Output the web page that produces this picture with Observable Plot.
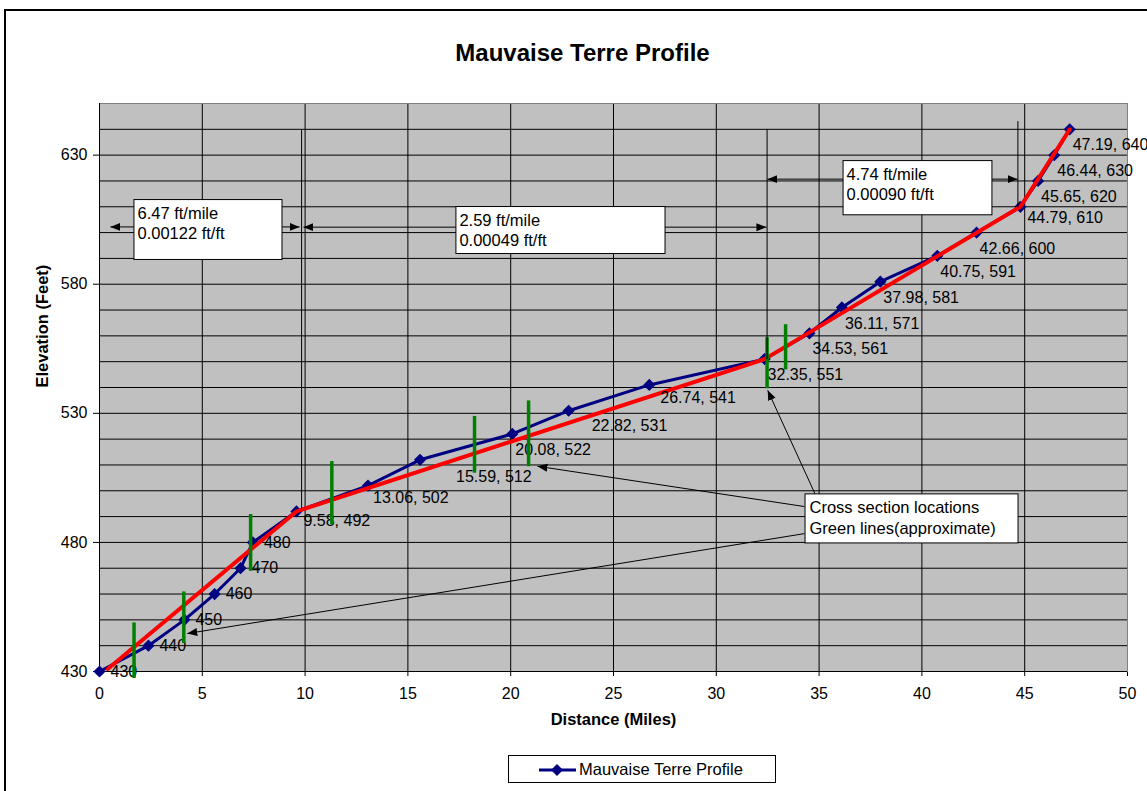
<!DOCTYPE html>
<html>
<head>
<meta charset="utf-8">
<script src="https://cdn.jsdelivr.net/npm/d3@7"></script>
<script src="https://cdn.jsdelivr.net/npm/@observablehq/plot@0.6"></script>
<style>
  body { margin: 0; background: #fff; overflow: hidden; font-family: "Liberation Sans", Arial, sans-serif; }
  #page { position: relative; width: 1147px; height: 791px; overflow: hidden; background: #fff; }
  #border { position: absolute; left: 4px; top: 9px; width: 1300px; height: 1000px; border: 2px solid #000; box-sizing: border-box; }
  #title { position: absolute; left: 0; width: 1165px; top: 39px; text-align: center; font-weight: bold; font-size: 24px; line-height: 28px; }
  #chart { position: absolute; left: 0; top: 0; }
  #legend { position: absolute; left: 508px; top: 755px; width: 268px; height: 28px; border: 1px solid #000; box-sizing: border-box; background: #fff; }
  #legend svg { position: absolute; left: 29px; top: 7px; }
  #legend span { position: absolute; left: 70px; top: 4px; font-size: 16.5px; line-height: 19px; }
</style>
</head>
<body>
<div id="page">
  <div id="border"></div>
  <div id="chart"></div>
  <div id="title">Mauvaise Terre Profile</div>
  <div id="legend">
    <svg width="40" height="14"><line x1="1" y1="7" x2="38" y2="7" stroke="#000080" stroke-width="3"/><path d="M19,1L25,7L19,13L13,7Z" fill="#000080"/></svg>
    <span>Mauvaise Terre Profile</span>
  </div>
</div>
<script>
// ---- Data ----
const distance = [0, 2.38, 4.13, 5.6, 6.86, 7.46, 9.58, 13.06, 15.59, 20.08, 22.82, 26.74, 32.35, 34.53, 36.11, 37.98, 40.75, 42.66, 44.79, 45.65, 46.44, 47.19];
const elevation = [430, 440, 450, 460, 470, 480, 492, 502, 512, 522, 531, 541, 551, 561, 571, 581, 591, 600, 610, 620, 630, 640];
const pointLabels = ["430", "440", "450", "460", "470", "480", "9.58, 492", "13.06, 502", "15.59, 512", "20.08, 522", "22.82, 531", "26.74, 541", "32.35, 551", "34.53, 561", "36.11, 571", "37.98, 581", "40.75, 591", "42.66, 600", "44.79, 610", "45.65, 620", "46.44, 630", "47.19, 640"];

// red trend (slope segments)
const trendX = [0.4, 9.58, 32.35, 44.79, 47.19];
const trendY = [431, 492, 551, 610, 640];

// green cross-section lines (approximate)
const sectionX = [1.68, 4.1, 7.35, 11.3, 18.24, 20.87, 32.47, 33.37];
const sectionLow = [427.5, 441, 469, 487, 507, 509.5, 539.7, 547];
const sectionHigh = [449, 461, 491, 511.5, 529, 535, 559.5, 564.5];

// slope annotations
const slopeText = ["6.47 ft/mile\n0.00122 ft/ft", "2.59 ft/mile\n0.00049 ft/ft", "4.74 ft/mile\n0.00090 ft/ft"];
const slopeBoxX1 = [1.70, 17.36, 36.19];
const slopeBoxX2 = [8.90, 27.53, 43.43];
const slopeBoxTop = [612.6, 609.9, 627.7];
const slopeBoxBottom = [589.4, 591.7, 606.7];
const spanFrom = [0.53, 9.92, 32.49];
const spanTo = [9.73, 32.44, 44.65];
const spanY = [602.2, 602.1, 620.7];
const dividerX = [9.83, 32.47, 44.67];
const dividerTop = [640, 640, 643.2];
const dividerBottom = [493, 551, 609.8];

// cross-section callout
const calloutText = ["Cross section locations\nGreen lines(approximate)"];
const calloutBox = [34.34, 44.70, 498.6, 479.6]; // x1, x2, yTop, yBottom
const pointerFromX = [34.28, 34.82, 34.28];
const pointerFromY = [493.9, 498.5, 483.4];
const pointerToX = [21.3, 32.5, 4.27];
const pointerToY = [509.5, 538.9, 444.7];

// axes
const xTicks = [0, 5, 10, 15, 20, 25, 30, 35, 40, 45, 50];
const yTicks = [430, 480, 530, 580, 630];
const yGrid = d3.range(430, 651, 10);

// ---- Build tables ----
const profile = distance.map((d, i) => ({x: d, y: elevation[i], label: pointLabels[i]}));
const trend = trendX.map((d, i) => ({x: d, y: trendY[i]}));
const sections = sectionX.map((d, i) => ({x: d, y1: sectionLow[i], y2: sectionHigh[i]}));
const slopes = slopeText.map((t, i) => ({text: t, x1: slopeBoxX1[i], x2: slopeBoxX2[i], y1: slopeBoxBottom[i], y2: slopeBoxTop[i], a: spanFrom[i], b: spanTo[i], ay: spanY[i], dx: dividerX[i], dTop: dividerTop[i], dBot: dividerBottom[i]}));
const callout = [{text: calloutText[0], x1: calloutBox[0], x2: calloutBox[1], y2: calloutBox[2], y1: calloutBox[3]}];
const pointers = pointerFromX.map((d, i) => ({x1: d, y1: pointerFromY[i], x2: pointerToX[i], y2: pointerToY[i]}));

// label nudges (styling)
const nudge = i => {
  if (i < 6) return [11, 0];
  if (i === 8) return [36, 17];
  if (i === 10) return [23, 15];
  if (i === 11) return [11, 13];
  if (i === 6) return [7, 9];
  if (i === 7) return [5, 12];
  if (i === 18) return [7, 11];
  return [3, 16];
};

function filledArrow(color, context) {
  const doc = (context && context.document) || document;
  const ns = "http://www.w3.org/2000/svg";
  const m = doc.createElementNS(ns, "marker");
  m.setAttribute("viewBox", "-10 -5 10 10");
  m.setAttribute("markerWidth", 10);
  m.setAttribute("markerHeight", 10);
  m.setAttribute("markerUnits", "userSpaceOnUse");
  m.setAttribute("orient", "auto-start-reverse");
  m.setAttribute("refX", 0);
  m.setAttribute("refY", 0);
  const p = doc.createElementNS(ns, "path");
  p.setAttribute("d", "M-10,-4L0,0L-10,4Z");
  p.setAttribute("fill", color);
  p.setAttribute("stroke", "none");
  m.appendChild(p);
  return m;
}

function build(arrowMarker) {
  const labelMarks = profile.map((d, i) => {
    const [dx, dy] = nudge(i);
    return Plot.text([d], {x: "x", y: "y", text: "label", textAnchor: "start", dx, dy, fontSize: 16, fill: "#000"});
  });
  return Plot.plot({
    width: 1147,
    height: 745,
    marginLeft: 99,
    marginRight: 20,
    marginTop: 103,
    marginBottom: 74,
    style: {fontFamily: "'Liberation Sans', Arial, sans-serif", fontSize: "16px", background: "transparent", color: "#000", overflow: "visible"},
    x: {domain: [0, 50], ticks: xTicks, tickSize: 5, tickPadding: 11, label: null, tickFormat: d3.format("d")},
    y: {domain: [430, 650], ticks: yTicks, tickSize: 6, tickPadding: 6, label: null, tickFormat: d3.format("d")},
    marks: [
      Plot.frame({fill: "#c0c0c0", stroke: "none"}),
      Plot.ruleY(yGrid, {stroke: "#000", strokeWidth: 1}),
      Plot.ruleX(xTicks, {stroke: "#000", strokeWidth: 1}),
      Plot.frame({stroke: "#808080", strokeWidth: 1}),
      Plot.ruleX([0], {stroke: "#000"}),
      Plot.ruleY([430], {stroke: "#000"}),
      // profile
      Plot.line(profile, {x: "x", y: "y", stroke: "#000080", strokeWidth: 3}),
      Plot.dot(profile, {x: "x", y: "y", symbol: "diamond2", r: 5.5, fill: "#000080", stroke: "none"}),
      // trend
      Plot.line(trend, {x: "x", y: "y", stroke: "#ff0000", strokeWidth: 4}),
      ...labelMarks,
      // cross sections
      Plot.link(sections, {x1: "x", x2: "x", y1: "y1", y2: "y2", stroke: "#008000", strokeWidth: 3.5}),
      // dividers
      Plot.link(slopes, {x1: "dx", x2: "dx", y1: "dBot", y2: "dTop", stroke: "#000", strokeWidth: 1}),
      // span arrows
      Plot.link(slopes, {x1: "a", x2: "b", y1: "ay", y2: "ay", stroke: "#000", strokeWidth: 1, markerStart: arrowMarker, markerEnd: arrowMarker}),
      // pointers
      Plot.link(pointers, {x1: "x1", y1: "y1", x2: "x2", y2: "y2", stroke: "#000", strokeWidth: 1, markerEnd: arrowMarker}),
      // boxes
      Plot.rect(slopes, {x1: "x1", x2: "x2", y1: "y1", y2: "y2", fill: "#fff", stroke: "#000", strokeWidth: 1}),
      Plot.text(slopes, {x: "x1", y: "y2", text: "text", textAnchor: "start", lineAnchor: "top", lineHeight: 1.25, dx: 3, dy: 4, fontSize: 16.5, fill: "#000"}),
      Plot.rect(callout, {x1: "x1", x2: "x2", y1: "y1", y2: "y2", fill: "#fff", stroke: "#000", strokeWidth: 1}),
      Plot.text(callout, {x: "x1", y: "y2", text: "text", textAnchor: "start", lineAnchor: "top", lineHeight: 1.25, dx: 4, dy: 4, fontSize: 16.5, fill: "#000"}),
      // axis titles
      Plot.text(["Elevation (Feet)"], {frameAnchor: "left", dx: -57, rotate: -90, fontWeight: "bold", fontSize: 16.5, fill: "#000"}),
      Plot.text(["Distance (Miles)"], {frameAnchor: "bottom", dy: 53, fontWeight: "bold", fontSize: 16.5, fill: "#000"})
    ]
  });
}

let chart;
try { chart = build(filledArrow); } catch (e) { chart = build("arrow"); }
document.getElementById("chart").appendChild(chart);
</script>
</body>
</html>
